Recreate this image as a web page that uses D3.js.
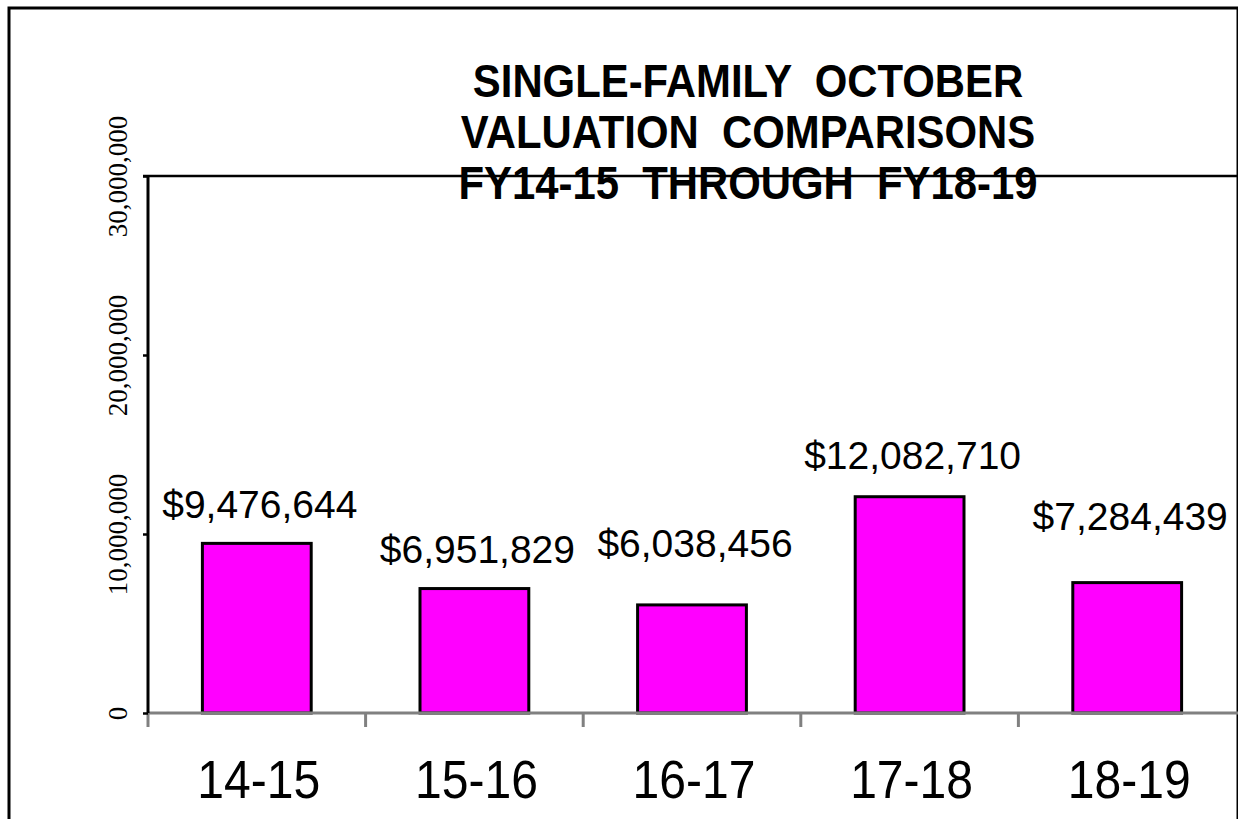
<!DOCTYPE html>
<html lang="en">

<head>
    <meta charset="utf-8">
    <script src="https://d3js.org/d3.v7.min.js"></script>
    <style>
        body { margin: 0; background: #fff; }
    </style>
</head>

<body>
    <script>
        // chart data
        const categories = ["14-15", "15-16", "16-17", "17-18", "18-19"];
        const values = [9476644, 6951829, 6038456, 12082710, 7284439];
        const yTicks = [0, 10000000, 20000000, 30000000];
        const titleLines = ["SINGLE-FAMILY  OCTOBER", "VALUATION  COMPARISONS", "FY14-15  THROUGH  FY18-19"];

        // how far each value label sits above its bar (moved by hand in the original)
        const labelRaise = [25, 26, 48, 28, 53];

        const width = 1238;
        const height = 819;
        const plot = { left: 148, top: 176, right: 1236, bottom: 713 };

        const svg = d3.select("body").append("svg")
            .attr("width", width)
            .attr("height", height);

        // outer frame
        svg.append("rect")
            .attr("x", 9).attr("y", 8)
            .attr("width", 1229).attr("height", 830)
            .attr("fill", "white")
            .attr("stroke", "black")
            .attr("stroke-width", 3);

        // scales
        const x = d3.scaleBand()
            .domain(categories)
            .range([plot.left, plot.right])
            .paddingInner(0.5)
            .paddingOuter(0.25);

        const y = d3.scaleLinear()
            .domain([0, 30000000])
            .range([plot.bottom, plot.top]);

        // top border of plot area
        svg.append("line")
            .attr("x1", plot.left - 5).attr("x2", width)
            .attr("y1", y(30000000)).attr("y2", y(30000000))
            .attr("stroke", "black")
            .attr("stroke-width", 2.5);

        // bars
        svg.selectAll(".bar")
            .data(values)
            .enter()
            .append("rect")
            .attr("class", "bar")
            .attr("x", (d, i) => x(categories[i]))
            .attr("y", d => y(d))
            .attr("width", x.bandwidth())
            .attr("height", d => y(0) - y(d))
            .attr("fill", "#ff00ff")
            .attr("stroke", "black")
            .attr("stroke-width", 3);

        // value labels
        const money = d3.format("$,");
        svg.selectAll(".val")
            .data(values)
            .enter()
            .append("text")
            .attr("class", "val")
            .attr("x", (d, i) => x(categories[i]) + x.bandwidth() / 2 + 3)
            .attr("y", (d, i) => y(d) - labelRaise[i])
            .attr("text-anchor", "middle")
            .style("font-family", "'Liberation Sans', Arial, sans-serif")
            .style("font-size", "39px")
            .text(d => money(d));

        // x axis (grey)
        const xAxis = svg.append("g")
            .attr("transform", "translate(0," + plot.bottom + ")");
        xAxis.append("line")
            .attr("x1", plot.left).attr("x2", width)
            .attr("stroke", "#808080")
            .attr("stroke-width", 3);
        const step = x.step();
        xAxis.selectAll(".xtick")
            .data(categories)
            .enter()
            .append("line")
            .attr("class", "xtick")
            .attr("x1", d => x(d) - step / 4).attr("x2", d => x(d) - step / 4)
            .attr("y1", 0).attr("y2", 14)
            .attr("stroke", "#808080")
            .attr("stroke-width", 3);
        xAxis.selectAll(".xlab")
            .data(categories)
            .enter()
            .append("text")
            .attr("class", "xlab")
            .attr("transform", d => "translate(" + (x(d) + x.bandwidth() / 2 + 2) + ",85) scale(0.89,1)")
            .attr("text-anchor", "middle")
            .style("font-family", "'Liberation Sans', Arial, sans-serif")
            .style("font-size", "54px")
            .text(d => d);

        // y axis (black)
        const yAxis = svg.append("g")
            .attr("transform", "translate(" + plot.left + ",0)")
            .call(d3.axisLeft(y).tickValues(yTicks).tickSize(5).tickFormat(d3.format(",")));
        yAxis.select(".domain")
            .attr("stroke", "black")
            .attr("stroke-width", 3)
            .attr("d", "M0," + plot.top + "V" + plot.bottom);
        yAxis.selectAll(".tick line")
            .attr("stroke", "black")
            .attr("stroke-width", 2.5);
        yAxis.selectAll(".tick text")
            .attr("x", null).attr("dy", null)
            .attr("transform", "translate(-21,0) rotate(-90)")
            .attr("text-anchor", "middle")
            .attr("fill", "black")
            .style("font-family", "'Liberation Serif', 'Times New Roman', serif")
            .style("font-size", "27px");

        // title
        svg.append("g")
            .selectAll("text")
            .data(titleLines)
            .enter()
            .append("text")
            .attr("transform", (d, i) => "translate(748," + (97 + i * 51) + ") scale(0.91,1)")
            .attr("text-anchor", "middle")
            .attr("xml:space", "preserve")
            .style("white-space", "pre")
            .style("font-family", "'Liberation Sans', Arial, sans-serif")
            .style("font-weight", "bold")
            .style("font-size", "46px")
            .text(d => d);
    </script>
</body>

</html>
